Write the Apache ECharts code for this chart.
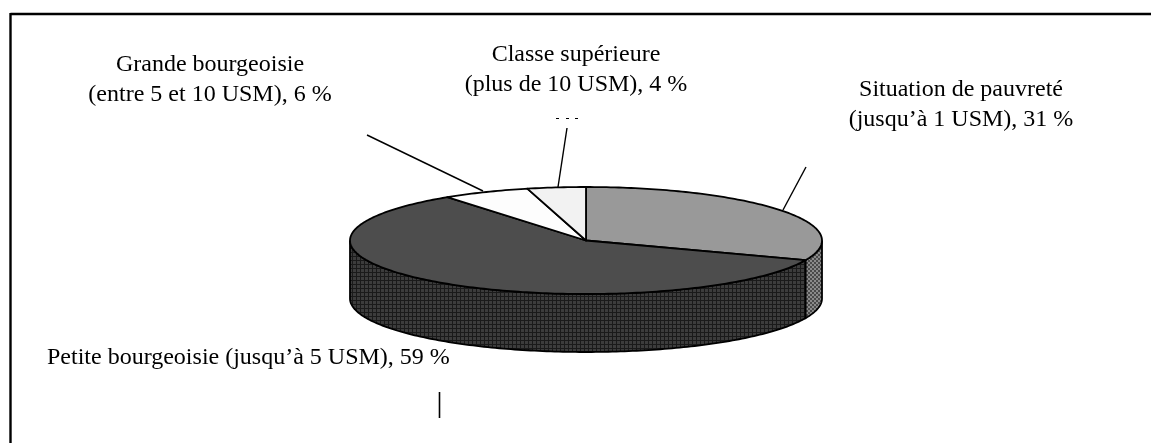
<!DOCTYPE html>
<html>
<head>
<meta charset="utf-8">
<style>html,body{margin:0;padding:0;background:#fff}#c{width:1151px;height:443px}</style>
<script src="https://cdn.jsdelivr.net/npm/echarts@6/dist/echarts.min.js"></script>
</head>
<body>
<div id="c"></div>
<script>
var categories = ["Situation de pauvreté", "Petite bourgeoisie", "Grande bourgeoisie", "Classe supérieure"];
var values = [31, 59, 6, 4];
var topColors = ["#999999", "#4d4d4d", "#fdfdfd", "#f2f2f2"];
var labelLines = [
  ["Situation de pauvreté", "(jusqu’à 1 USM), 31 %"],
  ["Petite bourgeoisie (jusqu’à 5 USM), 59 %"],
  ["Grande bourgeoisie", "(entre 5 et 10 USM), 6 %"],
  ["Classe supérieure", "(plus de 10 USM), 4 %"]
];

var FONT = '24px "Liberation Serif", "Times New Roman", serif';
var CX = 586, CY = 240.5, RX = 236, RY = 53.5, DEPTH = 58;
var total = values.reduce(function (a, b) { return a + b; }, 0);

function pattern(size, paint) {
  var cv = document.createElement('canvas');
  cv.width = cv.height = size;
  paint(cv.getContext('2d'));
  return { image: cv, repeat: 'repeat' };
}
var darkSide = pattern(4, function (g) {
  g.fillStyle = '#3c3c3c'; g.fillRect(0, 0, 4, 4);
  g.fillStyle = '#1a1a1a'; g.fillRect(0, 0, 4, 1); g.fillRect(0, 0, 1, 4);
});
var lightSide = pattern(4, function (g) {
  g.fillStyle = '#8a8a8a'; g.fillRect(0, 0, 4, 4);
  g.fillStyle = '#4a4a4a'; g.fillRect(0, 0, 2, 2); g.fillRect(2, 2, 2, 2);
});
var sideFills = [lightSide, darkSide, darkSide, darkSide];

function pt(deg, dy) {
  var r = deg * Math.PI / 180;
  return [CX + RX * Math.sin(r), CY - RY * Math.cos(r) + (dy || 0)];
}

function renderSlice(params, api) {
  var i = params.dataIndex;
  var before = 0;
  for (var k = 0; k < i; k++) before += values[k];
  var start = before / total * 360;
  var end = start + api.value(1) / total * 360;
  var children = [];

  var s = Math.max(start, 90), e = Math.min(end, 270);
  if (e > s) {
    var upper = [], lower = [];
    for (var d = s; d < e; d += 1) { upper.push(pt(d)); lower.unshift(pt(d, DEPTH)); }
    upper.push(pt(e)); lower.unshift(pt(e, DEPTH));
    children.push({
      type: 'polygon', z2: 1,
      shape: { points: upper.concat(lower) },
      style: { fill: sideFills[i], stroke: '#000', lineWidth: 1.8 }
    });
  }
  var face = [[CX, CY]];
  for (var a = start; a < end; a += 1) face.push(pt(a));
  face.push(pt(end));
  children.push({
    type: 'polygon', z2: 2,
    shape: { points: face },
    style: { fill: topColors[i], stroke: '#000', lineWidth: 1.8, lineJoin: 'round' }
  });
  return { type: 'group', children: children };
}

function text(content, x, y, align) {
  return {
    type: 'text', x: x, y: y, z: 10,
    style: { text: content, font: FONT, fill: '#000', align: align || 'center', verticalAlign: 'middle' }
  };
}
function rule(x1, y1, x2, y2, w) {
  return {
    type: 'line', z: 5,
    shape: { x1: x1, y1: y1, x2: x2, y2: y2 },
    style: { stroke: '#000', lineWidth: w || 1.4 }
  };
}

var chart = echarts.init(document.getElementById('c'), null, { renderer: 'canvas' });
chart.setOption({
  animation: false,
  backgroundColor: '#fff',
  graphic: { elements: [
    rule(10.5, 14, 1151, 14, 2.4),
    rule(10.5, 13, 10.5, 443, 2.4),
    rule(367, 135, 483, 191),
    rule(567, 128, 558, 187),
    rule(556, 118.5, 559, 118.5, 1), rule(566, 118.5, 569, 118.5, 1), rule(575, 118.5, 578, 118.5, 1),
    rule(806, 167, 783, 210),
    rule(439.5, 392, 439.5, 418, 1.6),
    text(labelLines[2][0], 210, 65),
    text(labelLines[2][1], 210, 95),
    text(labelLines[3][0], 576, 55),
    text(labelLines[3][1], 576, 85),
    text(labelLines[0][0], 961, 90),
    text(labelLines[0][1], 961, 120),
    text(labelLines[1][0], 47, 358, 'left')
  ] },
  series: [{
    type: 'custom',
    coordinateSystem: 'none',
    renderItem: renderSlice,
    encode: { itemName: 0, value: 1 },
    data: categories.map(function (c, i) { return [c, values[i]]; })
  }]
});
</script>
</body>
</html>
